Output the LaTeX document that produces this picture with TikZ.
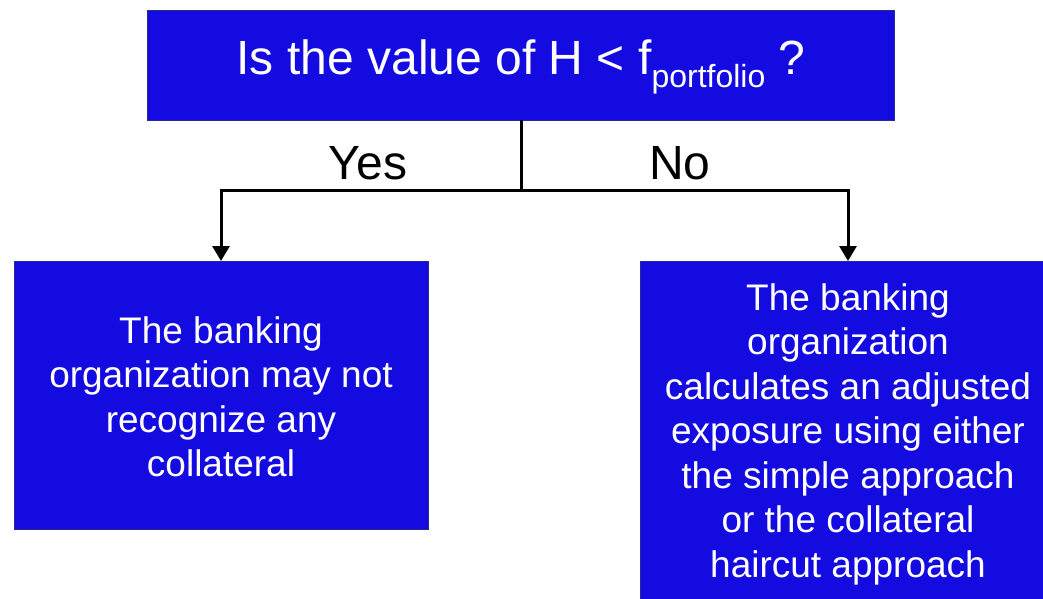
\documentclass[tikz,border=0pt]{standalone}
\usepackage{fontspec}
\setmainfont{Liberation Sans}
\usetikzlibrary{arrows.meta}
\definecolor{boxblue}{RGB}{20,11,225}
\definecolor{boxedge}{RGB}{40,40,150}
\begin{document}
\begin{tikzpicture}[x=1pt,y=-1pt,
  bluebox/.style={draw=boxedge,line width=0.8pt,fill=boxblue,inner sep=0pt},
  boxtext/.style={text=white,align=center,font=\fontsize{37}{44.5}\selectfont},
  lbl/.style={text=black,font=\fontsize{48}{54}\selectfont},
  conn/.style={line width=3pt},
  arr/.style={conn,-{Triangle[width=17pt,length=15pt]}}]
\useasboundingbox (0,0) rectangle (1043,599);
\fill[white] (0,0) rectangle (1043,599);
% boxes
\draw[bluebox] (147,10) rectangle (894,120);
\draw[bluebox] (14,261) rectangle (428,529);
\draw[bluebox] (640,261) rectangle (1060,620);
\coordinate (qtop) at (521,120);
\coordinate (qjoin) at (521,190);
\coordinate (lcorner) at (221,190);
\coordinate (rcorner) at (848,190);
\coordinate (ltop) at (221,261);
\coordinate (rtop) at (848,261);
\node[text=white,font=\fontsize{48}{54}\selectfont] (q) at (521,67)
  {Is the value of H < f\raisebox{-0.28em}{\fontsize{32}{36}\selectfont portfolio} ?};
\node[boxtext] (left) at (221,397) {The banking\\organization may not\\recognize any\\collateral};
\node[boxtext] (right) at (848,434) {The banking\\organization\\calculates an adjusted\\exposure using either\\the simple approach\\or the collateral\\haircut approach};
% connectors
\draw[conn] (qtop) -- (qjoin);
\draw[arr] (qjoin) -- (lcorner) -- (ltop);
\draw[arr] (qjoin) -- (rcorner) -- (rtop);
\node[lbl] (yes) at (368,163) {Yes};
\node[lbl] (no) at (680,163) {No};
\end{tikzpicture}
\end{document}
